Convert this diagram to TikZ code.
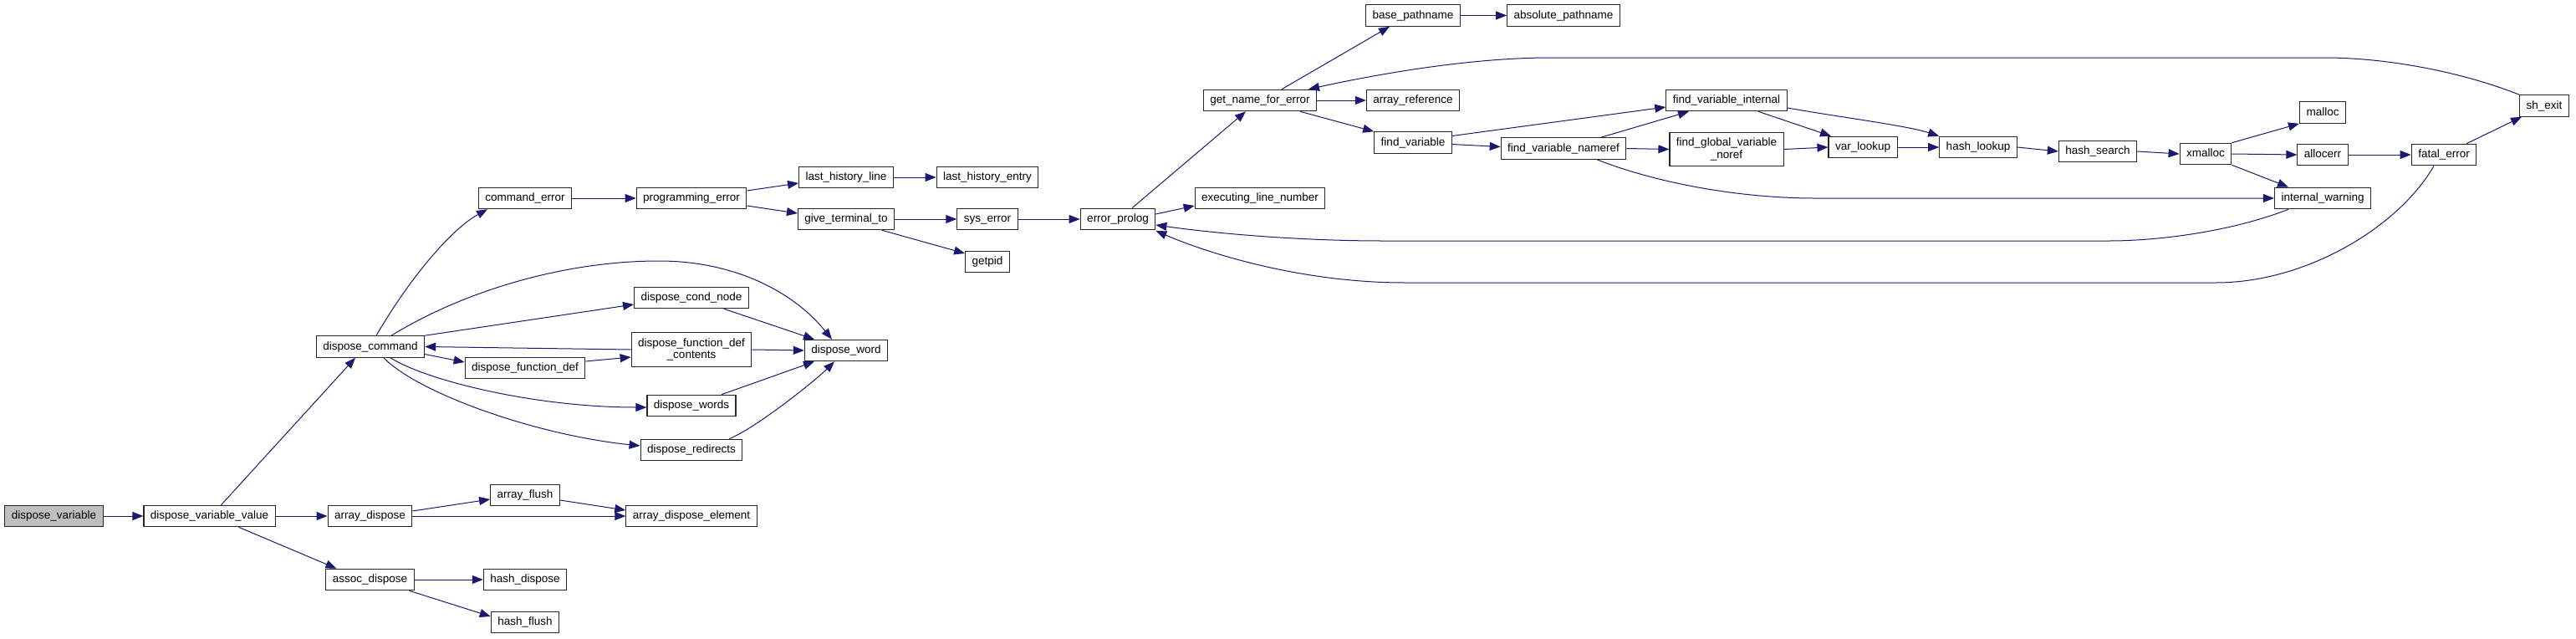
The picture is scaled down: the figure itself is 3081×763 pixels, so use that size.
\documentclass[tikz,border=0pt]{standalone}
\usepackage{fontspec}
\setmainfont{Liberation Sans}
\usetikzlibrary{arrows.meta}
\definecolor{edgeblue}{HTML}{191970}
\definecolor{rootgray}{HTML}{BFBFBF}

\begin{document}
\begin{tikzpicture}[
    x=1pt, y=-1pt,
    every node/.style={font=\fontsize{13.5}{14.5}\selectfont},
    fnbox/.style={draw=black!85, line width=1.1pt, rectangle, fill=white, inner xsep=8pt, inner ysep=0pt, minimum height=25.5pt, text height=10pt, text depth=3pt},
    rootbox/.style={fnbox, fill=rootgray},
    twobox/.style={draw=black!85, line width=1.1pt, rectangle, fill=white, inner xsep=8pt, inner ysep=2pt, minimum height=40.5pt, align=center},
    call/.style={-{Triangle[length=13pt, width=10pt]}, draw=edgeblue, line width=1pt}
]
    \useasboundingbox (0,0) rectangle (3081,763);

    % Left part
    \node[rootbox] (dvar) at (64.5,617) {dispose\_variable};
    \node[fnbox] (dvv) at (250.5,617) {dispose\_variable\_value};
    \node[fnbox] (dcmd) at (443,414.5) {dispose\_command};
    \node[fnbox] (arrd) at (442.5,617) {array\_dispose};
    \node[fnbox] (adisp) at (442.5,693) {assoc\_dispose};
    \node[fnbox] (cerr) at (628,237) {command\_error};
    \node[fnbox] (dfd) at (628,440) {dispose\_function\_def};
    \node[fnbox] (aflush) at (628,592) {array\_flush};
    \node[fnbox] (hdisp) at (628,693) {hash\_dispose};
    \node[fnbox] (hflush) at (628,744) {hash\_flush};
    \node[fnbox] (perr) at (827,237) {programming\_error};
    \node[fnbox] (dcond) at (827,356) {dispose\_cond\_node};
    \node[twobox] (dfdc) at (827,418) {dispose\_function\_def\\\_contents};
    \node[fnbox] (dwords) at (827,485) {dispose\_words};
    \node[fnbox] (dredir) at (827,538) {dispose\_redirects};
    \node[fnbox] (adel) at (827,617) {array\_dispose\_element};
    \node[fnbox] (lhl) at (1012,212) {last\_history\_line};
    \node[fnbox] (gtt) at (1012,262) {give\_terminal\_to};
    \node[fnbox] (dword) at (1012,419) {dispose\_word};
    \node[fnbox] (lhe) at (1181,212) {last\_history\_entry};
    \node[fnbox] (syserr) at (1181,262) {sys\_error};
    \node[fnbox] (getpid) at (1181,313) {getpid};

    % Right part
    \node[fnbox] (eprolog) at (1337,262) {error\_prolog};
    \node[fnbox] (gnfe) at (1507,120) {get\_name\_for\_error};
    \node[fnbox] (eln) at (1507,237) {executing\_line\_number};
    \node[fnbox] (basep) at (1690,18.5) {base\_pathname};
    \node[fnbox] (aref) at (1690,120) {array\_reference};
    \node[fnbox] (fvar) at (1690,170.5) {find\_variable};
    \node[fnbox] (absp) at (1870,18.5) {absolute\_pathname};
    \node[fnbox] (fvn) at (1870,177.5) {find\_variable\_nameref};
    \node[fnbox] (fvi) at (2065,120) {find\_variable\_internal};
    \node[twobox] (fgvn) at (2065,178.5) {find\_global\_variable\\\_noref};
    \node[fnbox] (varl) at (2228,176) {var\_lookup};
    \node[fnbox] (hlook) at (2366,176) {hash\_lookup};
    \node[fnbox] (hsearch) at (2509,181) {hash\_search};
    \node[fnbox] (xmalloc) at (2638,184) {xmalloc};
    \node[fnbox] (malloc) at (2778,134.5) {malloc};
    \node[fnbox] (allocerr) at (2778,185) {allocerr};
    \node[fnbox] (iwarn) at (2778,237) {internal\_warning};
    \node[fnbox] (ferr) at (2923,185) {fatal\_error};
    \node[fnbox] (shexit) at (3043,126.5) {sh\_exit};

    % Calls, left part
    \draw[call] (dvar.east) -- (dvv.west);
    \draw[call] ([xshift=14pt]dvv.north) -- ([xshift=-18pt]dcmd.south);
    \draw[call] (dvv.east) -- (arrd.west);
    \draw[call] ([xshift=35pt]dvv.south) -- ([xshift=-40pt]adisp.north);
    \draw[call] ([xshift=7pt]dcmd.north) .. controls (494,326) and (543,272) .. ([xshift=-45pt]cerr.south);
    \draw[call] ([xshift=25pt]dcmd.north) .. controls (560,345) and (680,312) .. (788,312)
        .. controls (880,312) and (950,350) .. ([xshift=-17pt]dword.north);
    \draw[call] (dcmd.north east) -- ([yshift=-8pt]dcond.west);
    \draw[call] (dfdc.west) -- (dcmd.east);
    \draw[call] ([yshift=-9pt]dcmd.east) -- ([yshift=7pt]dfd.west);
    \draw[call] ([yshift=8pt]dfd.east) -- ([yshift=-9pt]dfdc.west);
    \draw[call] ([xshift=24pt]dcmd.south) .. controls (510,455) and (640,487) .. ([yshift=-2pt]dwords.west);
    \draw[call] ([xshift=16pt]dcmd.south) .. controls (500,470) and (640,520) .. ([yshift=5pt]dredir.west);
    \draw[call] ([xshift=39pt]dcond.south) -- ([xshift=-38pt]dword.north);
    \draw[call] (dfdc.east) -- (dword.west);
    \draw[call] ([xshift=36pt]dwords.north) -- ([xshift=-38pt]dword.south);
    \draw[call] ([xshift=45pt]dredir.north) .. controls (902,513) and (973,457) .. ([xshift=-14pt]dword.south);
    \draw[call] ([yshift=6pt]arrd.east) -- ([yshift=-5pt]aflush.west);
    \draw[call] (arrd.east) -- (adel.west);
    \draw[call] ([yshift=-6pt]aflush.east) -- ([yshift=7pt]adel.west);
    \draw[call] (adisp.east) -- (hdisp.west);
    \draw[call] ([xshift=47pt]adisp.south) -- ([yshift=7pt]hflush.west);
    \draw[call] (cerr.east) -- (perr.west);
    \draw[call] ([yshift=9pt]perr.east) -- ([yshift=-7pt]lhl.west);
    \draw[call] ([yshift=-9pt]perr.east) -- ([yshift=7pt]gtt.west);
    \draw[call] (lhl.east) -- (lhe.west);
    \draw[call] (gtt.east) -- (syserr.west);
    \draw[call] ([xshift=43pt]gtt.south) -- ([yshift=10pt]getpid.west);
    \draw[call] (syserr.east) -- (eprolog.west);

    % Calls, right part
    \draw[call] ([xshift=17pt]eprolog.north) -- ([xshift=-17pt]gnfe.south);
    \draw[call] ([yshift=6pt]eprolog.east) -- ([yshift=-9pt]eln.west);
    \draw[call] ([xshift=-41pt]iwarn.south) .. controls (2660,280) and (2570,288) .. (2523,288) -- (1654,288)
        .. controls (1560,288) and (1460,280) .. ([yshift=-7pt]eprolog.east);
    \draw[call] ([xshift=-12pt]ferr.south) .. controls (2870,270) and (2760,338) .. (2650,338) -- (1680,338)
        .. controls (1560,338) and (1450,305) .. ([yshift=-14pt]eprolog.east);
    \draw[call] ([xshift=26pt]gnfe.north) -- ([xshift=-28pt]basep.south);
    \draw[call] (gnfe.east) -- (aref.west);
    \draw[call] ([xshift=48pt]gnfe.south) -- (fvar.north west);
    \draw[call] (shexit.north west) .. controls (2950,88) and (2860,69) .. (2780,69) -- (1854,69)
        .. controls (1760,69) and (1650,88) .. ([xshift=58pt]gnfe.north);
    \draw[call] (basep.east) -- (absp.west);
    \draw[call] ([yshift=8pt]fvar.east) -- ([yshift=-8pt]fvi.west);
    \draw[call] ([yshift=-2pt]fvar.east) -- ([yshift=2pt]fvn.west);
    \draw[call] ([xshift=45pt]fvn.north) -- ([xshift=-45pt]fvi.south);
    \draw[call] (fvn.east) -- (fgvn.west);
    \draw[call] ([xshift=40pt]fvn.south) .. controls (1990,222) and (2090,237) .. (2170,237) -- (iwarn.west);
    \draw[call] ([xshift=38pt]fvi.south) -- ([xshift=-38pt]varl.north);
    \draw[call] ([yshift=-9pt]fvi.east) .. controls (2200,140) and (2280,150) .. (hlook.north west);
    \draw[call] (fgvn.east) -- (varl.west);
    \draw[call] (varl.east) -- (hlook.west);
    \draw[call] (hlook.east) -- (hsearch.west);
    \draw[call] (hsearch.east) -- (xmalloc.west);
    \draw[call] (xmalloc.north east) -- (malloc.south west);
    \draw[call] (xmalloc.east) -- (allocerr.west);
    \draw[call] (xmalloc.south east) -- ([xshift=-41pt]iwarn.north);
    \draw[call] (allocerr.east) -- (ferr.west);
    \draw[call] ([xshift=27pt]ferr.north) -- ([xshift=-27pt]shexit.south);
\end{tikzpicture}
\end{document}
